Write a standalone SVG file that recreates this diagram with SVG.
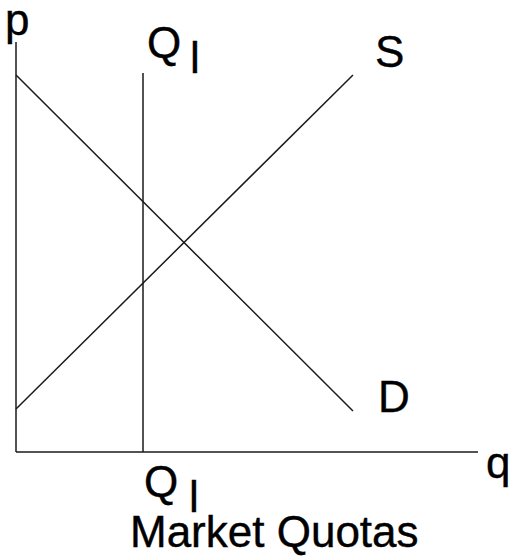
<svg xmlns="http://www.w3.org/2000/svg" width="514" height="560" viewBox="0 0 514 560">
<style>
.ln{stroke:#1a1a1a;stroke-width:1.5;fill:none}
.t{font-family:"Liberation Sans",Arial,sans-serif;font-size:44px;fill:#000;stroke:#000;stroke-width:0.4}
</style>
<rect width="514" height="560" fill="#fff"/>
<g id="connectors">
<line class="ln" x1="16" y1="42" x2="16" y2="452"/>
<line class="ln" x1="16" y1="452" x2="478" y2="452"/>
<line class="ln" x1="16" y1="75" x2="353" y2="411"/>
<line class="ln" x1="16" y1="409" x2="353" y2="75"/>
<line class="ln" x1="143" y1="73" x2="143" y2="452"/>
</g>
<g id="axis-p"><text class="t" x="5" y="35" font-size="40">p</text></g>
<g id="axis-q"><text class="t" x="486" y="478" font-size="40">q</text></g>
<g id="quota-top"><text class="t" x="147" y="58">Q</text><text class="t" x="190" y="73">l</text></g>
<g id="supply"><text class="t" x="375" y="67">S</text></g>
<g id="demand"><text class="t" x="378" y="412">D</text></g>
<g id="quota-bottom"><text class="t" x="144" y="497">Q</text><text class="t" x="189" y="512" font-size="42">l</text></g>
<g id="title"><text class="t" x="130" y="547" font-size="41.5">Market Quotas</text></g>
</svg>
